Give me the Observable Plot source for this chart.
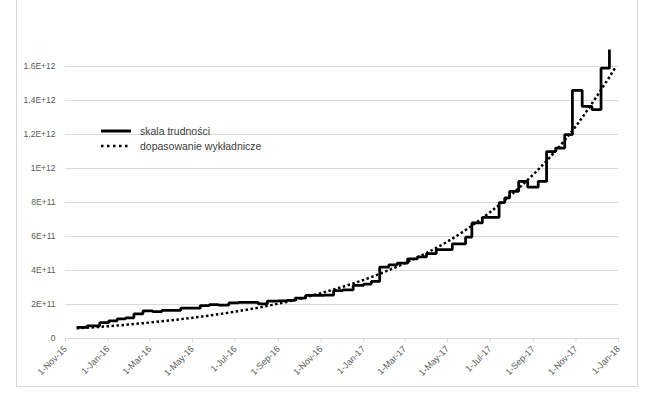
<!DOCTYPE html>
<html>
<head>
<meta charset="utf-8">
<script src="https://cdn.jsdelivr.net/npm/d3@7"></script>
<script src="https://cdn.jsdelivr.net/npm/@observablehq/plot@0.6"></script>
<style>
  html, body { margin: 0; padding: 0; background: #fff; }
  #wrap { position: relative; width: 653px; height: 397px; overflow: hidden; font-family: "Liberation Sans", Arial, sans-serif; }
  #frame { position: absolute; left: 16px; top: -2px; width: 622px; height: 389px; border: 1px solid #d9d9d9; box-sizing: border-box; }
  #legend { position: absolute; left: 101px; top: 123px; font-size: 10.5px; color: #404040; }
  .row { display: flex; align-items: center; height: 15px; }
  .row svg { width: 30px; height: 6px; margin-right: 9px; }
</style>
</head>
<body>
<div id="wrap">
  <div id="frame"></div>
  <div id="chart"></div>
  <div id="legend"></div>
</div>
<script>
// Series names
const seriesNames = ["skala trudności", "dopasowanie wykładnicze"];

// Difficulty (step series): date of each adjustment
const diffDates = [
  "2015-11-17","2015-12-02","2015-12-20","2016-01-02","2016-01-14","2016-01-26",
  "2016-02-07","2016-02-20","2016-03-05","2016-03-18","2016-04-01","2016-04-14",
  "2016-04-27","2016-05-12","2016-05-25","2016-06-07","2016-06-22","2016-07-06",
  "2016-07-20","2016-08-03","2016-08-16","2016-08-31","2016-09-13","2016-09-25",
  "2016-10-10","2016-10-24","2016-11-06","2016-11-19","2016-12-02","2016-12-17",
  "2017-01-01","2017-01-12","2017-01-24","2017-02-06","2017-02-18","2017-03-05",
  "2017-03-19","2017-04-01","2017-04-15","2017-05-08","2017-05-27","2017-06-05",
  "2017-06-20","2017-07-14","2017-07-22","2017-07-29","2017-08-11","2017-08-24",
  "2017-09-08","2017-09-20","2017-10-03","2017-10-16","2017-10-27","2017-11-10",
  "2017-11-24","2017-12-07","2017-12-19"
];
const diffValues = [
  6.5e10, 7.5e10, 9.3e10, 1.04e11, 1.15e11, 1.22e11,
  1.45e11, 1.63e11, 1.58e11, 1.65e11, 1.66e11, 1.78e11,
  1.78e11, 1.94e11, 2.0e11, 1.97e11, 2.09e11, 2.13e11,
  2.13e11, 2.03e11, 2.2e11, 2.21e11, 2.25e11, 2.38e11,
  2.54e11, 2.54e11, 2.55e11, 2.82e11, 2.86e11, 3.12e11,
  3.2e11, 3.36e11, 4.2e11, 4.33e11, 4.43e11, 4.69e11,
  4.8e11, 4.99e11, 5.23e11, 5.57e11, 5.96e11, 6.8e11,
  7.13e11, 8.0e11, 8.27e11, 8.65e11, 9.24e11, 8.9e11,
  9.24e11, 1.10e12, 1.12e12, 1.2e12, 1.46e12, 1.365e12,
  1.347e12, 1.59e12, 1.70e12
];

// Exponential fit (dotted)
const fitDates = [
  "2015-11-17","2016-01-01","2016-03-01","2016-05-01","2016-07-01","2016-09-01",
  "2016-11-01","2017-01-01","2017-03-01","2017-05-01","2017-07-01","2017-09-01",
  "2017-11-01","2017-12-27"
];
const fitValues = [
  6.0e10, 7.2e10, 9.4e10, 1.22e11, 1.58e11, 2.05e11,
  2.67e11, 3.45e11, 4.43e11, 5.7e11, 7.43e11, 9.65e11,
  1.25e12, 1.59e12
];

// Axes
const yTicks = [0, 2e11, 4e11, 6e11, 8e11, 1e12, 1.2e12, 1.4e12, 1.6e12];
const yTickLabels = ["0","2E+11","4E+11","6E+11","8E+11","1E+12","1.2E+12","1.4E+12","1.6E+12"];
const xTicks = ["2015-11-01","2016-01-01","2016-03-01","2016-05-01","2016-07-01","2016-09-01",
  "2016-11-01","2017-01-01","2017-03-01","2017-05-01","2017-07-01","2017-09-01","2017-11-01","2018-01-01"];
const xTickLabels = ["1-Nov-15","1-Jan-16","1-Mar-16","1-May-16","1-Jul-16","1-Sep-16",
  "1-Nov-16","1-Jan-17","1-Mar-17","1-May-17","1-Jul-17","1-Sep-17","1-Nov-17","1-Jan-18"];
const xDomain = ["2015-11-01", "2018-01-01"];
const yDomain = [0, 1.8e12];

const parse = d3.utcParse("%Y-%m-%d");
const diff = diffDates.map((d, i) => ({date: parse(d), value: diffValues[i]}));
const fit = fitDates.map((d, i) => ({date: parse(d), value: fitValues[i]}));
const xTickDates = xTicks.map(parse);
const fmtX = d => xTickLabels[xTickDates.findIndex(t => +t === +d)];
const fmtY = d => yTickLabels[yTicks.indexOf(d)];

const chart = Plot.plot({
  width: 653,
  height: 397,
  marginLeft: 65,
  marginRight: 35,
  marginTop: 32,
  marginBottom: 59,
  style: {fontFamily: "'Liberation Sans', Arial, sans-serif", background: "transparent", overflow: "visible"},
  x: {type: "utc", domain: xDomain.map(parse)},
  y: {domain: yDomain},
  marks: [
    Plot.ruleY(yTicks, {stroke: "#d9d9d9", strokeWidth: 1}),
    Plot.axisX({ticks: xTickDates, tickSize: 4, stroke: "#d9d9d9", tickFormat: () => "", label: null}),
    Plot.axisX({ticks: xTickDates, tickSize: 0, tickPadding: 9, tickRotate: -45, tickFormat: fmtX,
      fill: "#595959", fontSize: 9, label: null}),
    Plot.axisY({ticks: yTicks, tickSize: 0, tickPadding: 10, tickFormat: fmtY, fill: "#595959", fontSize: 8.5, label: null}),
    Plot.line(fit, {x: "date", y: "value", curve: "natural", stroke: "#000", strokeWidth: 2.5,
      strokeDasharray: "2.5 2.5", strokeLinecap: "butt"}),
    Plot.line(diff, {x: "date", y: "value", curve: "step-after", stroke: "#000", strokeWidth: 2.75,
      strokeLinejoin: "miter", strokeLinecap: "butt"})
  ]
});
chart.style.position = "absolute";
chart.style.left = "0px";
chart.style.top = "0px";
document.getElementById("chart").appendChild(chart);

// Legend
const legend = document.getElementById("legend");
seriesNames.forEach((name, i) => {
  const row = document.createElement("div");
  row.className = "row";
  const dash = i === 0 ? "" : 'stroke-dasharray="2.5 3.5"';
  const w = i === 0 ? 3 : 2.5;
  row.innerHTML = `<svg viewBox="0 0 30 6"><line x1="0" y1="3" x2="30" y2="3" stroke="#000" stroke-width="${w}" ${dash}/></svg><span>${name}</span>`;
  legend.appendChild(row);
});
</script>
</body>
</html>
